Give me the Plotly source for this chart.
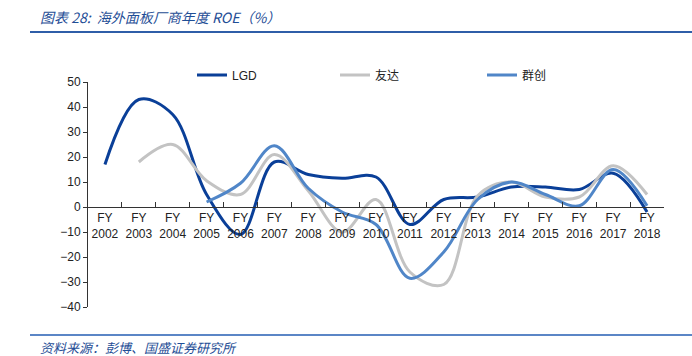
import plotly.graph_objects as go

years = ["2002", "2003", "2004", "2005", "2006", "2007", "2008", "2009", "2010",
         "2011", "2012", "2013", "2014", "2015", "2016", "2017", "2018"]
categories = ["FY<br>" + y for y in years]

lgd = [17, 43, 37, 5, -11, 18, 13, 11.5, 12, -7, 3, 4, 8, 8, 7, 13.5, -2]
auo = [None, 18, 25, 10.5, 5, 21, 6.5, -10, 3, -26, -31, 4.5, 10, 4, 4, 16.5, 5]
innolux = [None, None, None, 2, 9.5, 24.5, 7.5, -2, -7, -28.5, -18, 3, 10, 5, 0.5, 15, 0.5]

names = ["LGD", "友达", "群创"]
colors = ["#0a3f98", "#c3c3c3", "#5086c8"]
series = [lgd, auo, innolux]
legend_ids = ["legend", "legend2", "legend3"]
legend_x_px = [192, 335, 482]

W, H = 692, 356
L, R, T, B = 88, 664, 82, 307
pw, ph = R - L, B - T


def px(x):
    return (x - L) / pw


def py(y):
    return (B - y) / ph


fig = go.Figure()
for n, c, s, lg in zip(names, colors, series, legend_ids):
    fig.add_trace(go.Scatter(
        x=categories, y=s, name=n, mode="lines", legend=lg,
        line=dict(color=c, width=3, shape="spline", smoothing=1.0),
        connectgaps=False, hoverinfo="skip"))

font_main = "Liberation Sans, Noto Sans CJK SC, sans-serif"

legend_common = dict(orientation="h", xanchor="left", yanchor="middle",
                     font=dict(size=12, color="#222222"), bgcolor="rgba(0,0,0,0)",
                     borderwidth=0)

fig.update_layout(
    width=W, height=H,
    margin=dict(l=L, r=W - R, t=T, b=H - B, pad=0),
    paper_bgcolor="white", plot_bgcolor="white",
    font=dict(family=font_main, size=12, color="#222222"),
    showlegend=True,
    legend=dict(x=px(legend_x_px[0]), y=py(75), **legend_common),
    legend2=dict(x=px(legend_x_px[1]), y=py(75), **legend_common),
    legend3=dict(x=px(legend_x_px[2]), y=py(75), **legend_common),
    xaxis=dict(type="category", anchor="free", position=40 / 90,
               showline=True, linecolor="#333333", linewidth=1,
               ticks="inside", ticklen=5, tickcolor="#333333", tickson="boundaries",
               showgrid=False, zeroline=False, tickangle=0,
               tickfont=dict(size=12, color="#222222"),
               range=[-0.5, len(categories) - 0.5]),
    yaxis=dict(range=[-40, 50], tickvals=[-40, -30, -20, -10, 0, 10, 20, 30, 40, 50],
               showline=True, linecolor="#333333", linewidth=1,
               ticks="outside", ticklen=4, tickcolor="#333333",
               showgrid=False, zeroline=False,
               tickfont=dict(size=12, color="#222222")),
)

fig.add_annotation(text="图表 28:  海外面板厂商年度 ROE（%）", xref="paper", yref="paper",
                   x=px(38), y=py(17), xanchor="left", yanchor="middle", showarrow=False,
                   font=dict(family="Noto Sans CJK SC, sans-serif", size=14, color="#1f4e96",
                             style="italic"))
fig.add_annotation(text="资料来源：彭博、国盛证券研究所", xref="paper", yref="paper",
                   x=px(38), y=py(347), xanchor="left", yanchor="middle", showarrow=False,
                   font=dict(family="Noto Sans CJK SC, sans-serif", size=13, color="#1f4e96",
                             style="italic"))

fig.add_shape(type="line", xref="paper", yref="paper", x0=px(30), x1=px(692),
              y0=py(32), y1=py(32), line=dict(color="#2f5ea8", width=2))
fig.add_shape(type="line", xref="paper", yref="paper", x0=px(30), x1=px(692),
              y0=py(335), y1=py(335), line=dict(color="#5b86c6", width=2))

fig.write_html("out.html", config={"displayModeBar": False},
               post_script="document.body.style.margin='0';document.body.style.padding='0';")
